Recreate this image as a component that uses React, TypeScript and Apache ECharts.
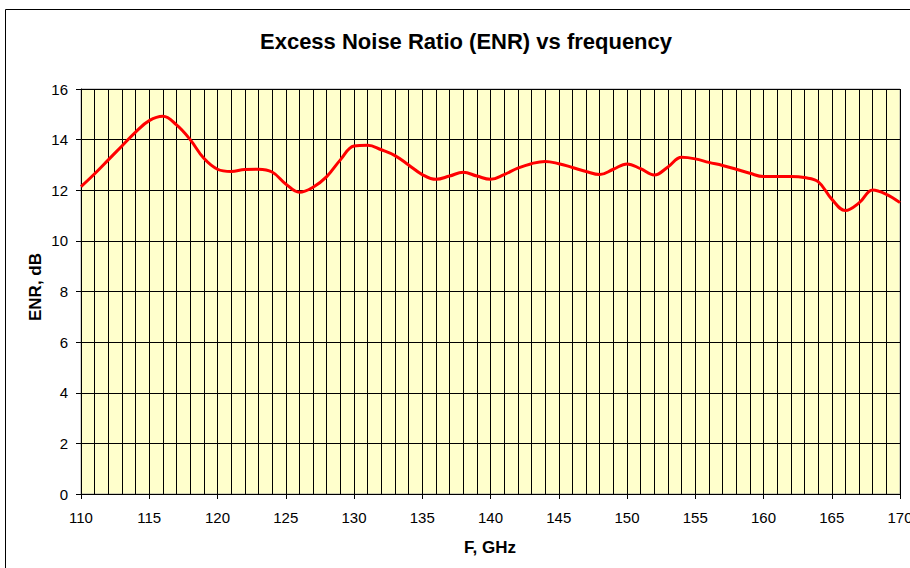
import React, { useEffect, useRef } from "react";
import * as echarts from "echarts";

const frequencies = [
  110, 111, 112, 113, 114, 115, 116, 117, 118, 119, 120, 121, 122, 123, 124, 125, 126, 127, 128, 129,
  130, 131, 132, 133, 134, 135, 136, 137, 138, 139, 140, 141, 142, 143, 144, 145, 146, 147, 148, 149,
  150, 151, 152, 153, 154, 155, 156, 157, 158, 159, 160, 161, 162, 163, 164, 165, 166, 167, 168, 169, 170,
];
const enrValues = [
  12.14, 12.65, 13.2, 13.75, 14.3, 14.75, 14.92, 14.58, 14.0, 13.26, 12.83, 12.74, 12.82, 12.83, 12.72, 12.25,
  11.92, 12.12, 12.54, 13.2, 13.75, 13.78, 13.6, 13.37, 13.0, 12.62, 12.43, 12.56, 12.71, 12.56, 12.43, 12.62,
  12.87, 13.05, 13.14, 13.05, 12.9, 12.74, 12.62, 12.83, 13.04, 12.85, 12.6, 12.92, 13.3, 13.24, 13.1, 12.98,
  12.83, 12.67, 12.54, 12.54, 12.54, 12.5, 12.34, 11.65, 11.2, 11.5, 12.01, 11.84, 11.51,
];
const titleText = "Excess Noise Ratio (ENR) vs frequency";
const xAxisName = "F, GHz";
const yAxisName = "ENR, dB";

export default function App() {
  const ref = useRef<HTMLDivElement>(null);
  useEffect(() => {
    if (!ref.current) return;
    const chart = echarts.init(ref.current, null, { renderer: "svg" });
    const font = "Arial, 'Liberation Sans', sans-serif";
    chart.setOption({
      animation: false,
      backgroundColor: "#ffffff",
      textStyle: { fontFamily: font },
      graphic: [
        {
          type: "rect",
          shape: { x: 5.5, y: 9.5, width: 920, height: 600 },
          style: { fill: "none", stroke: "#000", lineWidth: 1 },
          z: -10,
        },
        {
          type: "text",
          x: 466,
          y: 41,
          style: {
            text: titleText,
            fontSize: 22,
            fontWeight: "bold",
            fontFamily: font,
            fill: "#000",
            textAlign: "center",
            textVerticalAlign: "middle",
          },
        },
        {
          type: "text",
          x: 35,
          y: 287,
          rotation: Math.PI / 2,
          style: {
            text: yAxisName,
            fontSize: 17,
            fontWeight: "bold",
            fontFamily: font,
            fill: "#000",
            textAlign: "center",
            textVerticalAlign: "middle",
          },
        },
        {
          type: "text",
          x: 490,
          y: 547,
          style: {
            text: xAxisName,
            fontSize: 17,
            fontWeight: "bold",
            fontFamily: font,
            fill: "#000",
            textAlign: "center",
            textVerticalAlign: "middle",
          },
        },
      ],
      grid: {
        left: 81,
        right: 10,
        top: 89,
        bottom: 74,
        containLabel: false,
        outerBoundsMode: "none",
        show: true,
        backgroundColor: "#FFFFCC",
        borderColor: "#a0a0a0",
        borderWidth: 1,
      },
      xAxis: {
        type: "value",
        min: 110,
        max: 170,
        interval: 5,
        axisLine: { show: true, lineStyle: { color: "#000", width: 1 } },
        axisTick: { show: true, length: 5, lineStyle: { color: "#000" } },
        axisLabel: { fontSize: 15, color: "#000", margin: 16, fontFamily: font },
        splitLine: { show: true, lineStyle: { color: "#000", width: 1 } },
        minorTick: { show: false, splitNumber: 5 },
        minorSplitLine: { show: true, lineStyle: { color: "#000", width: 1 } },
      },
      yAxis: {
        type: "value",
        min: 0,
        max: 16,
        interval: 2,
        axisLine: { show: true, lineStyle: { color: "#000", width: 1 } },
        axisTick: { show: true, length: 5, lineStyle: { color: "#000" } },
        axisLabel: { fontSize: 15, color: "#000", margin: 13, fontFamily: font },
        splitLine: { show: true, lineStyle: { color: "#000", width: 1 } },
      },
      series: [
        {
          type: "line",
          data: frequencies.map((f, i) => [f, enrValues[i]]),
          smooth: 0.4,
          showSymbol: false,
          symbol: "none",
          lineStyle: { color: "#ff0000", width: 3 },
          z: 5,
        },
      ],
    });
    return () => chart.dispose();
  }, []);
  return (
    <div
      ref={ref}
      style={{ position: "fixed", left: 0, top: 0, width: 910, height: 568 }}
    />
  );
}
